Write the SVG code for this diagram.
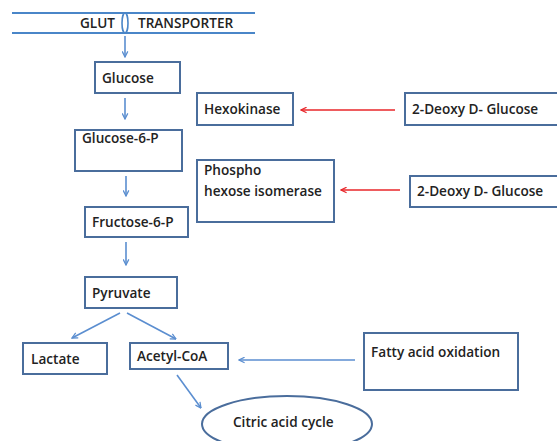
<svg xmlns="http://www.w3.org/2000/svg" width="557" height="441" viewBox="0 0 557 441">
<defs>
<style>
.box{fill:#fff;stroke:#4a6d9c;stroke-width:2}
.t{font-family:"Open Sans","Liberation Sans",sans-serif;font-weight:600;font-size:13.6px;fill:#222}
.ar{stroke:#5b8ed0;stroke-width:1.6;fill:none}
.red{stroke:#e8262a;stroke-width:1.6;fill:none}
</style>
<marker id="mb" viewBox="0 0 10 10" refX="9" refY="5" markerWidth="7" markerHeight="7" orient="auto" markerUnits="userSpaceOnUse"><path d="M1,1 L9,5 L1,9" fill="none" stroke="#5b8ed0" stroke-width="1.8"/></marker>
<marker id="mr" viewBox="0 0 10 10" refX="9" refY="5" markerWidth="7" markerHeight="7" orient="auto" markerUnits="userSpaceOnUse"><path d="M1,1 L9,5 L1,9" fill="none" stroke="#e8262a" stroke-width="1.8"/></marker>
</defs>
<rect width="557" height="441" fill="#fff"/>
<g id="membrane">
<line x1="12" y1="13" x2="255" y2="13" stroke="#4a86c8" stroke-width="2"/>
<line x1="12" y1="33" x2="255" y2="33" stroke="#4a86c8" stroke-width="2"/>
<ellipse cx="125" cy="23" rx="3" ry="10" fill="none" stroke="#4a86c8" stroke-width="1.6"/>
<text class="t" x="80" y="28">GLUT</text>
<text class="t" x="138" y="28">TRANSPORTER</text>
</g>
<g id="connectors">
<line class="ar" x1="125" y1="36" x2="125" y2="57" marker-end="url(#mb)"/>
<line class="ar" x1="125" y1="98" x2="125" y2="119" marker-end="url(#mb)"/>
<line class="ar" x1="126" y1="176" x2="126" y2="196" marker-end="url(#mb)"/>
<line class="ar" x1="126" y1="242" x2="126" y2="265" marker-end="url(#mb)"/>
<line class="ar" x1="120" y1="313" x2="72" y2="338" marker-end="url(#mb)"/>
<line class="ar" x1="127" y1="313" x2="176" y2="339" marker-end="url(#mb)"/>
<line class="ar" x1="355" y1="360" x2="239" y2="360" marker-end="url(#mb)"/>
<line class="ar" x1="177" y1="375" x2="201" y2="408" marker-end="url(#mb)"/>
<line class="red" x1="395" y1="110" x2="301" y2="110" marker-end="url(#mr)"/>
<line class="red" x1="400" y1="190" x2="341" y2="190" marker-end="url(#mr)"/>
</g>
<g id="glucose"><rect class="box" x="95" y="62" width="85" height="31"/><text class="t" x="102" y="83">Glucose</text></g>
<g id="hexokinase"><rect class="box" x="197" y="93" width="96" height="32"/><text class="t" x="204" y="114">Hexokinase</text></g>
<g id="deoxy1"><rect class="box" x="405" y="93" width="160" height="32"/><text class="t" x="412" y="114">2-Deoxy D- Glucose</text></g>
<g id="g6p"><rect class="box" x="75" y="130" width="107" height="41"/><text class="t" x="82" y="143">Glucose-6-P</text></g>
<g id="phi"><rect class="box" x="197" y="160" width="137" height="62"/><text class="t" x="204" y="175">Phospho</text><text class="t" x="204" y="196">hexose isomerase</text></g>
<g id="deoxy2"><rect class="box" x="410" y="176" width="160" height="31"/><text class="t" x="417" y="196">2-Deoxy D- Glucose</text></g>
<g id="f6p"><rect class="box" x="85" y="207" width="103" height="30"/><text class="t" x="92" y="227">Fructose-6-P</text></g>
<g id="pyruvate"><rect class="box" x="85" y="277" width="92" height="31"/><text class="t" x="92" y="298">Pyruvate</text></g>
<g id="lactate"><rect class="box" x="23" y="343" width="84" height="31"/><text class="t" x="31" y="364">Lactate</text></g>
<g id="acetylcoa"><rect class="box" x="130" y="343" width="98" height="26"/><text class="t" x="137" y="361">Acetyl-CoA</text></g>
<g id="fatty"><rect class="box" x="364" y="333" width="154" height="57"/><text class="t" x="371" y="357">Fatty acid oxidation</text></g>
<g id="citric"><ellipse cx="287" cy="424" rx="85" ry="28" fill="#fff" stroke="#4a6d9c" stroke-width="2"/><text class="t" x="233" y="427">Citric acid cycle</text></g>
</svg>
